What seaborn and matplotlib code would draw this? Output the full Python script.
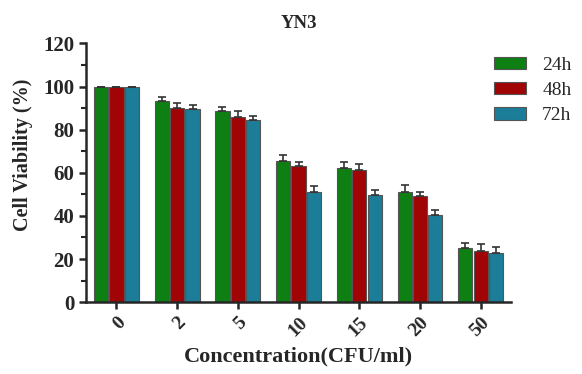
import numpy as np
import pandas as pd
import matplotlib
matplotlib.use("Agg")
import matplotlib.pyplot as plt
import seaborn as sns
from matplotlib.ticker import MultipleLocator

# Data
concentrations = ["0", "2", "5", "10", "15", "20", "50"]
times = ["24h", "48h", "72h"]
viability_24h = [100, 93.1, 88.5, 65.6, 62.1, 50.9, 25.2]
viability_48h = [100, 90.2, 85.8, 63.2, 61.2, 49.2, 23.8]
viability_72h = [100, 89.4, 84.4, 50.9, 49.7, 40.3, 22.9]
error_24h = [0, 2.2, 1.9, 2.5, 3.0, 3.3, 2.3]
error_48h = [0, 2.2, 2.7, 1.9, 2.8, 1.7, 3.0]
error_72h = [0, 1.9, 1.7, 3.2, 2.3, 2.5, 2.8]
colors = ["#0e7f12", "#a00405", "#1b7d98"]

sns.set_style("ticks")
plt.rcParams["font.family"] = ["Liberation Serif", "DejaVu Serif"]

df = pd.DataFrame({
    "conc": concentrations * 3,
    "time": np.repeat(times, len(concentrations)),
    "value": viability_24h + viability_48h + viability_72h,
    "err": error_24h + error_48h + error_72h,
})

fig = plt.figure(figsize=(5.82, 3.74), dpi=100)
ax = fig.add_axes([0.148, 0.192, 0.730, 0.692])

sns.barplot(data=df, x="conc", y="value", hue="time", order=concentrations,
            hue_order=times, palette=colors, saturation=1, width=0.76, gap=0.08,
            edgecolor="#555555", linewidth=0.8, errorbar=None, ax=ax)

# upward-only error bars on each bar
bars = [p for p in ax.patches if p.get_height() > 0][:len(df)]
bars = sorted(bars, key=lambda p: p.get_x())
order_df = df.copy()
order_df["ci"] = order_df["conc"].map({c: i for i, c in enumerate(concentrations)})
order_df["ti"] = order_df["time"].map({t: i for i, t in enumerate(times)})
order_df = order_df.sort_values(["ci", "ti"])
xs = [p.get_x() + p.get_width() / 2 for p in bars]
ys = [p.get_height() for p in bars]
errs = order_df["err"].tolist()
ax.errorbar(xs, ys, yerr=[np.zeros(len(errs)), errs], fmt="none",
            ecolor="#333333", elinewidth=1.2, capsize=3, capthick=1.2)

ax.set_ylim(0, 120)
ax.set_xlim(-0.5, len(concentrations) - 0.5)
ax.yaxis.set_major_locator(MultipleLocator(20))
ax.yaxis.set_minor_locator(MultipleLocator(10))
for s in ["left", "bottom"]:
    ax.spines[s].set_linewidth(1.8)
sns.despine(ax=ax)
ax.tick_params(axis="both", which="major", width=1.8, length=5, direction="out")
ax.tick_params(axis="y", which="minor", width=1.5, length=3.5, direction="out")

for lab in ax.get_yticklabels():
    lab.set_fontweight("bold")
    lab.set_fontsize(15)
ax.set_xticks(range(len(concentrations)))
ax.set_xticklabels(concentrations, rotation=45, ha="right", rotation_mode="anchor",
                   fontweight="bold", fontsize=14)

ax.set_xlabel("Concentration(CFU/ml)", fontsize=16, fontweight="bold", labelpad=5)
ax.set_ylabel("Cell Viability (%)", fontsize=14.5, fontweight="bold")
ax.yaxis.set_label_coords(-0.125, 0.57)
ax.set_title("YN3", fontsize=13.5, fontweight="bold", pad=11)

handles, labels = ax.get_legend_handles_labels()
ax.legend(handles, labels, loc="upper left", bbox_to_anchor=(0.818, 0.895),
          bbox_transform=fig.transFigure, frameon=False, fontsize=14,
          handlelength=1.65, handleheight=0.6, handletextpad=0.85, labelspacing=0.42)

fig.savefig("out.png", dpi=100)
